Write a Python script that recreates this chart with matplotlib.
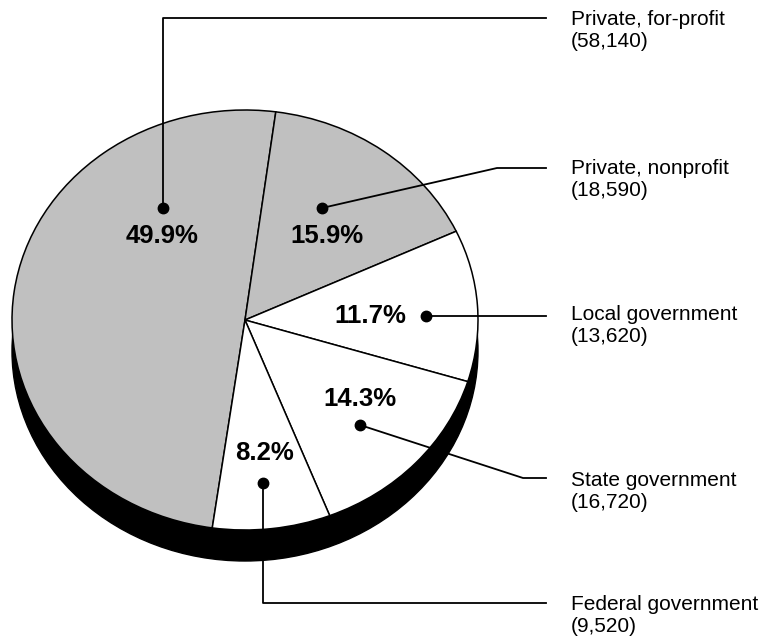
import numpy as np
import matplotlib.pyplot as plt
from matplotlib.patches import Ellipse, Rectangle

# data
categories = ['Private, for-profit', 'Private, nonprofit', 'Local government',
              'State government', 'Federal government']
counts = [58140, 18590, 13620, 16720, 9520]
fills = ['#c0c0c0', '#c0c0c0', 'white', 'white', 'white']

# layout in pixels of the 762x641 picture
CX, CY, RX, RY = 245, 320, 233, 210
DEPTH = 31
TOP_EDGE_ANGLE = 82.4  # boundary between the two private slices
pct_xy = [(162, 236), (327, 236), (370, 316), (360, 399), (265, 453)]
dot_xy = [(163, 208), (322, 208), (426, 316), (360, 425), (263, 483)]
bend_xy = [(163, 18), (497, 168), None, (523, 478), (263, 603)]
line_end_x = 546
label_x = 571
label_y = [18, 167, 313, 479, 603]


def to_data(x, y):
    # pixel -> pie units (ellipse radius 1 in both directions)
    return (x - CX) / RX, (CY - y) / RY


plt.rcParams['font.family'] = ['Liberation Sans', 'DejaVu Sans']
fig = plt.figure(figsize=(7.62, 6.41), dpi=100)
ax = fig.add_axes([0, 0, 1, 1])

# black side of the "3d" pie
d = DEPTH / RY
ax.add_patch(Ellipse((0, -d), 2, 2, facecolor='black', edgecolor='black', lw=1, zorder=1))
ax.add_patch(Rectangle((-1, -d), 2, d, facecolor='black', edgecolor='none', zorder=1))

total = sum(counts)
# for-profit runs clockwise from its start round the left side up to the top edge
start = TOP_EDGE_ANGLE + 360 * counts[0] / total
wedges, _ = ax.pie(counts, colors=fills, startangle=start, counterclock=False,
                   radius=1, center=(0, 0), frame=True,
                   wedgeprops=dict(edgecolor='black', linewidth=1.1))
for w in wedges:
    w.set_zorder(2)

ax.set_aspect('auto')
x0, y0 = to_data(0, 641)
x1, y1 = to_data(762, 0)
ax.set_xlim(x0, x1)
ax.set_ylim(y0, y1)
ax.axis('off')

for i, name in enumerate(categories):
    pct = 100 * counts[i] / total
    px, py = to_data(*pct_xy[i])
    ax.text(px, py, f'{pct:.1f}%', ha='center', va='center', fontsize=18.5,
            fontweight='bold', zorder=5)

    path = [dot_xy[i]]
    if bend_xy[i] is not None:
        path.append(bend_xy[i])
    path.append((line_end_x, path[-1][1]))
    xs, ys = zip(*[to_data(*p) for p in path])
    ax.plot(xs, ys, color='black', lw=1.3, zorder=4)
    dx, dy = to_data(*dot_xy[i])
    ax.plot(dx, dy, 'o', color='black', ms=7.5, zorder=5)

    tx, ty = to_data(label_x, label_y[i] + 12.5)
    ax.text(tx, ty, f'{name}\n({counts[i]:,})', ha='left', va='center',
            fontsize=15, linespacing=1.25, zorder=5)

plt.savefig('out.png', dpi=100)
